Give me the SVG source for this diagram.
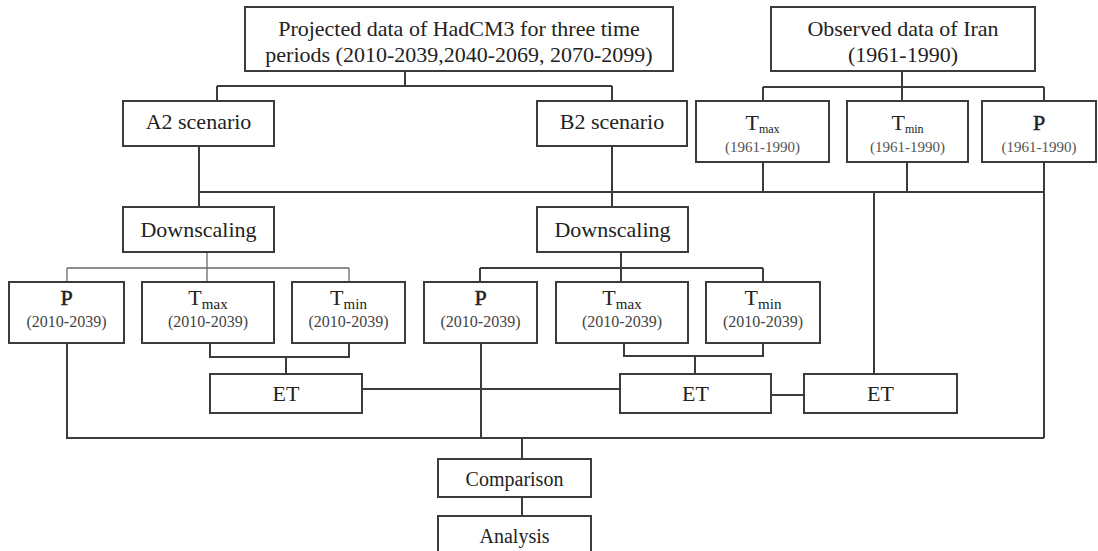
<svg xmlns="http://www.w3.org/2000/svg" width="1098" height="551" viewBox="0 0 1098 551">
<style>
.box{fill:#fff;stroke:#3c3c3c;stroke-width:2}
.ln{fill:none;stroke:#3c3c3c;stroke-width:2}
.thin{fill:none;stroke:#6a6a6a;stroke-width:1.3}
text{font-family:"Liberation Serif","Times New Roman",serif;fill:#222;text-anchor:middle}
.big{font-size:22px}
.mid{font-size:20px}
.sym{font-size:22px}
.p{stroke:#222;stroke-width:0.5}
.yr{font-size:15px;fill:#555}
.yr2{font-size:16px;fill:#444}
</style>
<rect width="1098" height="551" fill="#fff"/>
<g id="connectors">
<path class="ln" d="M405,71V86M217,86H612M217,86V101M612,86V101"/>
<path class="ln" d="M902,71V101M763,87H1044M763,87V101M1044,87V101"/>
<path class="ln" d="M199,146V207M612,146V207M199,192H1044"/>
<path class="ln" d="M763,162V192M907,162V192M1044,162V438M874,192V374"/>
<path class="thin" d="M207,252V282M67,268H349M67,268V282M349,268V282"/>
<path class="ln" d="M621,252V282M480,268H763M480,268V282M763,268V282"/>
<path class="ln" d="M210,343V357H349V343M286,357V374"/>
<path class="ln" d="M624,343V356H763V343M695,356V374"/>
<path class="ln" d="M362,389H620M771,395H804"/>
<path class="ln" d="M67,343V438H1044M481,343V438M522,438V459M522,497V516"/>
</g>
<g id="projected"><rect class="box" x="245" y="7" width="428" height="64"/>
<text class="big" x="459" y="36">Projected data of HadCM3 for three time</text>
<text class="big" x="459" y="62">periods (2010-2039,2040-2069, 2070-2099)</text></g>
<g id="observed"><rect class="box" x="771" y="7" width="264" height="64"/>
<text class="big" x="903" y="36">Observed data of Iran</text>
<text class="big" x="903" y="62">(1961-1990)</text></g>
<g id="a2"><rect class="box" x="123" y="101" width="151" height="45"/><text class="big" x="198.5" y="129">A2 scenario</text></g>
<g id="b2"><rect class="box" x="537" y="101" width="150" height="45"/><text class="big" x="612" y="129">B2 scenario</text></g>
<g id="obs-tmax"><rect class="box" x="696" y="101" width="133" height="61"/>
<text class="sym" x="762.5" y="130">T<tspan font-size="12" dy="3">max</tspan></text><text class="yr" x="762.5" y="152">(1961-1990)</text></g>
<g id="obs-tmin"><rect class="box" x="847" y="101" width="121" height="61"/>
<text class="sym" x="907.5" y="130">T<tspan font-size="12" dy="3">min</tspan></text><text class="yr" x="907.5" y="152">(1961-1990)</text></g>
<g id="obs-p"><rect class="box" x="982" y="101" width="114" height="61"/>
<text class="sym p" x="1039" y="130">P</text><text class="yr" x="1039" y="152">(1961-1990)</text></g>
<g id="down-a2"><rect class="box" x="123" y="207" width="151" height="45"/><text class="big" x="198.5" y="237">Downscaling</text></g>
<g id="down-b2"><rect class="box" x="537" y="207" width="151" height="45"/><text class="big" x="612.5" y="237">Downscaling</text></g>
<g id="a2-p"><rect class="box" x="9" y="282" width="115" height="61"/>
<text class="sym p" x="66.5" y="305">P</text><text class="yr2" x="66.5" y="327">(2010-2039)</text></g>
<g id="a2-tmax"><rect class="box" x="142" y="282" width="132" height="61"/>
<text class="sym" x="208" y="305">T<tspan font-size="15" dy="4">max</tspan></text><text class="yr2" x="208" y="327">(2010-2039)</text></g>
<g id="a2-tmin"><rect class="box" x="292" y="282" width="113" height="61"/>
<text class="sym" x="348.5" y="305">T<tspan font-size="15" dy="4">min</tspan></text><text class="yr2" x="348.5" y="327">(2010-2039)</text></g>
<g id="b2-p"><rect class="box" x="424" y="282" width="113" height="61"/>
<text class="sym p" x="480.5" y="305">P</text><text class="yr2" x="480.5" y="327">(2010-2039)</text></g>
<g id="b2-tmax"><rect class="box" x="556" y="282" width="132" height="61"/>
<text class="sym" x="622" y="305">T<tspan font-size="15" dy="4">max</tspan></text><text class="yr2" x="622" y="327">(2010-2039)</text></g>
<g id="b2-tmin"><rect class="box" x="706" y="282" width="114" height="61"/>
<text class="sym" x="763" y="305">T<tspan font-size="15" dy="4">min</tspan></text><text class="yr2" x="763" y="327">(2010-2039)</text></g>
<g id="et-a2"><rect class="box" x="210" y="374" width="152" height="39"/><text class="big" x="286" y="401">ET</text></g>
<g id="et-b2"><rect class="box" x="620" y="374" width="151" height="39"/><text class="big" x="695.5" y="401">ET</text></g>
<g id="et-obs"><rect class="box" x="804" y="374" width="153" height="39"/><text class="big" x="880.5" y="401">ET</text></g>
<g id="comparison"><rect class="box" x="438" y="459" width="153" height="38"/><text class="mid" x="514.5" y="486">Comparison</text></g>
<g id="analysis"><rect class="box" x="438" y="516" width="153" height="50"/><text class="mid" x="514.5" y="543">Analysis</text></g>
</svg>
